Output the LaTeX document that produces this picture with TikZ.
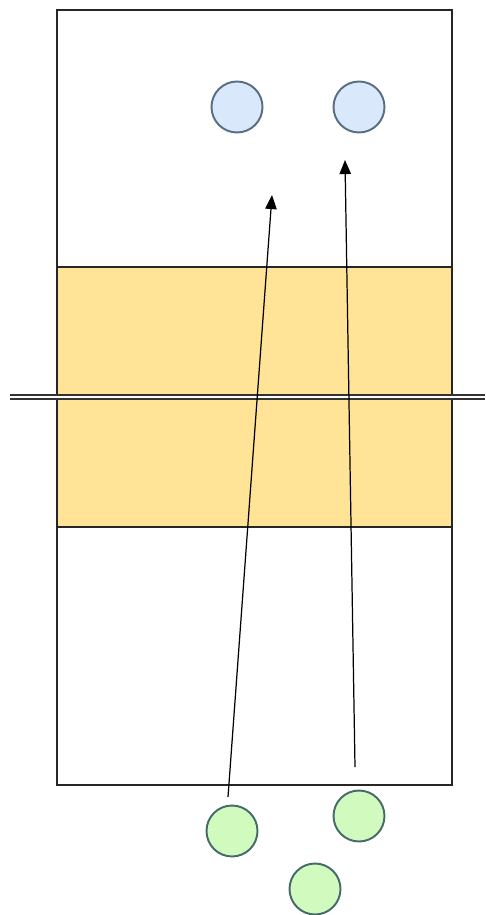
\documentclass[tikz,border=0pt]{standalone}
\usepackage{tikz}
\usetikzlibrary{arrows.meta, positioning}
\definecolor{bandyellow}{RGB}{255,227,150}
\definecolor{topblue}{RGB}{218,232,252}
\definecolor{topbluedraw}{RGB}{88,110,130}
\definecolor{bottomgreen}{RGB}{208,250,190}
\definecolor{bottomgreendraw}{RGB}{70,105,105}
\tikzset{
    % Circles above and below the frame
    bluedot/.style={circle, fill=topblue, draw=topbluedraw, line width=1.1pt, minimum size=1.02cm, inner sep=0pt},
    greendot/.style={circle, fill=bottomgreen, draw=bottomgreendraw, line width=1.1pt, minimum size=1.02cm, inner sep=0pt},
    % Frame and band
    framebox/.style={draw=black!85, line width=0.6pt, fill=white},
    bandbox/.style={draw=black!85, line width=0.6pt, fill=bandyellow},
    % Arrow and divider styles
    riselink/.style={-{Triangle[length=8pt, width=6.5pt]}, line width=0.7pt, color=black},
    dividerline/.style={draw=black!80, double=white, double distance=1.3pt, line width=0.8pt},
}

\begin{document}
\begin{tikzpicture}[x=0.02cm, y=-0.02cm]
\useasboundingbox (0,0) rectangle (485,915);

% ============================================================
% Frame with yellow band
% ============================================================
\draw[framebox] (57,10) rectangle (452,785);
\draw[bandbox] (57,267) rectangle (452,527);

% Divider across the band
\coordinate (divL) at (10,397);
\coordinate (divR) at (485,397);
\draw[dividerline] (divL) -- (divR);

% ============================================================
% Circles
% ============================================================
\node[bluedot] (blueA) at (237,107) {};
\node[bluedot] (blueB) at (359,107) {};

\node[greendot] (greenA) at (232,831) {};
\node[greendot] (greenB) at (359,816) {};
\node[greendot] (greenC) at (315,889) {};

% ============================================================
% Arrows
% ============================================================
\coordinate (startA) at (228,797);
\coordinate (tipA) at (272,195);
\coordinate (startB) at (355,767);
\coordinate (tipB) at (345,160);
\draw[riselink] (startA) -- (tipA);
\draw[riselink] (startB) -- (tipB);

\end{tikzpicture}
\end{document}
